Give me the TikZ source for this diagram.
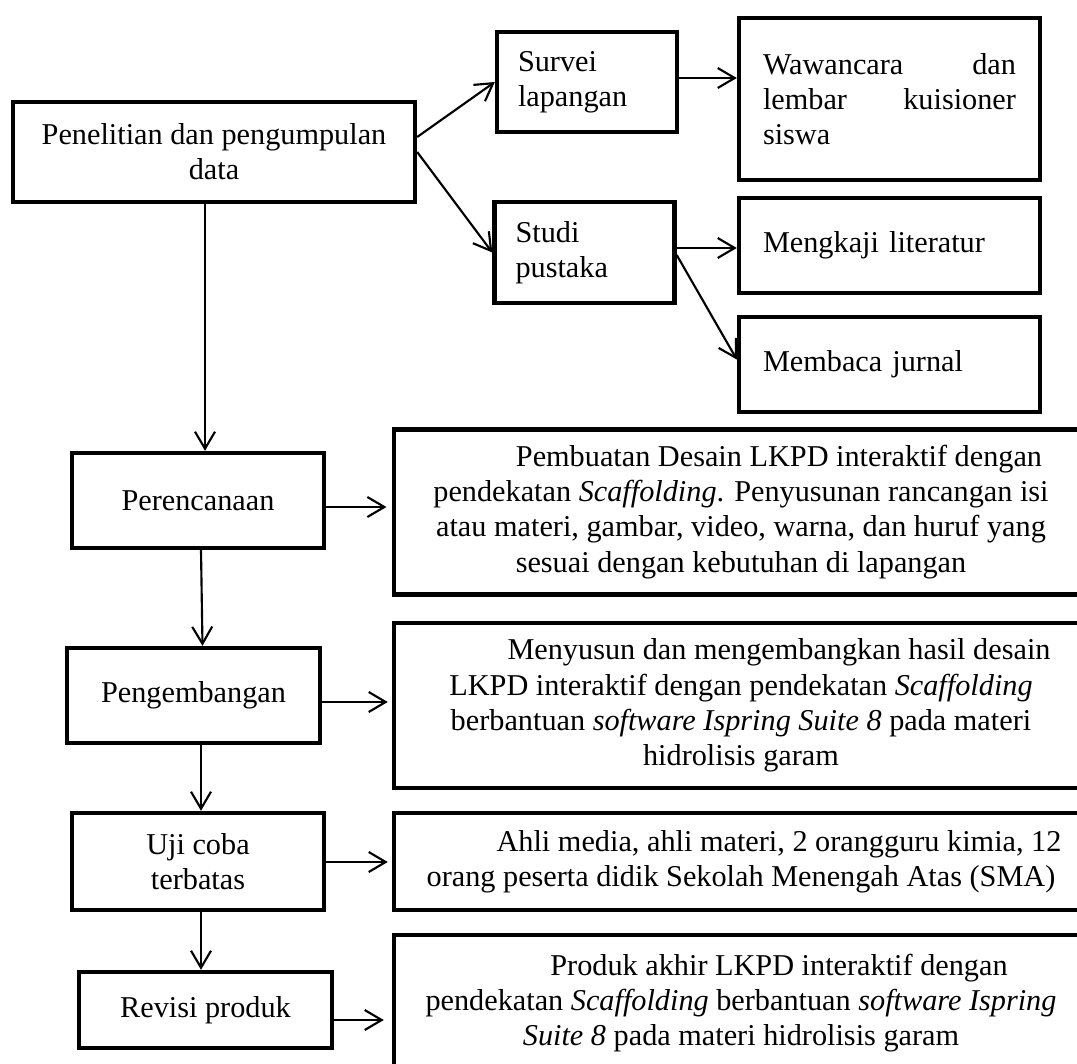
\documentclass[tikz,border=0pt]{standalone}
\usepackage{fontspec}
\setmainfont{Liberation Serif}
\usetikzlibrary{arrows.meta,calc}
\begin{document}
\begin{tikzpicture}[x=0.75pt,y=-0.75pt,
  txt/.style={font=\fontsize{22.7pt}{26.4pt}\selectfont},
  box/.style={draw, line width=3.3pt, txt, inner sep=0pt, align=center},
  lbox/.style={draw, line width=3.3pt, txt, inner ysep=0pt, align=left},
  arr/.style={line width=1.6pt, -{Straight Barb[length=12.75pt,width=15pt]}},
]
\useasboundingbox (0,0) rectangle (1077,1063);
\clip (0,0) rectangle (1077,1063);

% top part
\node[box, minimum width=301.5pt, minimum height=75pt] (b1) at (214,152) {Penelitian dan pengumpulan\\data};
\node[lbox, text width=103.5pt, inner xsep=15.75pt, minimum height=75pt] (survei) at (587,82) {Survei\\lapangan};
\node[lbox, text width=189.75pt, inner xsep=18pt, minimum height=121.5pt] (waw) at (889.5,99) {Wawancara\hfill dan\\lembar\hfill kuisioner\\siswa};
\node[lbox, text width=103.5pt, inner xsep=15.75pt, minimum height=75.75pt] (studi) at (584.5,252.5) {Studi\\pustaka};
\node[lbox, text width=189.75pt, inner xsep=18pt, minimum height=71.25pt] (meng) at (889.5,245.5) {Mengkaji literatur};
\node[lbox, text width=189.75pt, inner xsep=18pt, minimum height=71.25pt] (memb) at (889.5,364.5) {Membaca jurnal};

% left column
\node[box, minimum width=189pt, minimum height=71.25pt] (per) at (198,500.5) {Perencanaan};
\node[box, minimum width=189.75pt, minimum height=71.25pt] (peng) at (193.5,695.5) {Pengembangan};
\node[box, minimum width=189pt, minimum height=72.75pt] (uji) at (198,861.5) {Uji coba\\terbatas};
\node[box, minimum width=189.75pt, minimum height=57pt] (rev) at (205.5,1010) {Revisi produk};

% descriptions
\node[box, minimum width=520.5pt, minimum height=123.75pt] (d1) at (741,512)
 {\hspace*{57pt}Pembuatan Desain LKPD interaktif dengan\\pendekatan \textit{Scaffolding}. Penyusunan rancangan isi\\atau materi, gambar, video, warna, dan huruf yang\\sesuai dengan kebutuhan di lapangan};
\node[box, minimum width=520.5pt, minimum height=123.75pt] (d2) at (741,705.5)
 {\hspace*{57pt}Menyusun dan mengembangkan hasil desain\\LKPD interaktif dengan pendekatan \textit{Scaffolding}\\berbantuan \textit{software Ispring Suite 8} pada materi\\hidrolisis garam};
\node[box, minimum width=520.5pt, minimum height=72.75pt] (d3) at (741,861.5)
 {\hspace*{57pt}Ahli media, ahli materi, 2 orangguru kimia, 12\\orang peserta didik Sekolah Menengah Atas (SMA)};
\node[box, minimum width=520.5pt, minimum height=102pt] (d4) at (741,1003)
 {\hspace*{57pt}Produk akhir LKPD interaktif dengan\\pendekatan \textit{Scaffolding} berbantuan \textit{software Ispring}\\\textit{Suite 8} pada materi hidrolisis garam};

% connectors top
\draw[arr] ($(b1.east)+(0,-15)$) -- (survei.west);
\draw[arr] (b1.east) -- (studi.west);
\path ($(survei.east)+(0,-4)$) coordinate (s1);
\draw[arr] (s1) -- (s1 -| waw.west);
\path ($(studi.east)+(0,-4.5)$) coordinate (s2);
\draw[arr] (s2) -- (s2 -| meng.west);
\draw[arr] ($(studi.east)+(0,2.5)$) -- ($(memb.west)+(0,-5)$);

% vertical chain
\draw[arr] ($(b1.south)+(-9,0)$) -- ($(per.north)+(7,0)$);
\draw[arr] ($(per.south)+(3,0)$) -- ($(peng.north)+(9,0)$);
\draw[arr] ($(peng.south)+(7.5,0)$) -- ($(uji.north)+(3,0)$);
\draw[arr] ($(uji.south)+(3,0)$) -- ($(rev.north)+(-4.5,0)$);

% horizontal to descriptions
\path ($(per.east)+(0,6.5)$) coordinate (h1);
\draw[arr, shorten >=4pt] (h1) -- (h1 -| d1.west);
\path ($(peng.east)+(0,6.5)$) coordinate (h2);
\draw[arr, shorten >=3pt] (h2) -- (h2 -| d2.west);
\path ($(uji.east)+(0,0.5)$) coordinate (h3);
\draw[arr, shorten >=3pt] (h3) -- (h3 -| d3.west);
\path ($(rev.east)+(0,10)$) coordinate (h4);
\draw[arr, shorten >=6pt] (h4) -- (h4 -| d4.west);
\end{tikzpicture}
\end{document}
